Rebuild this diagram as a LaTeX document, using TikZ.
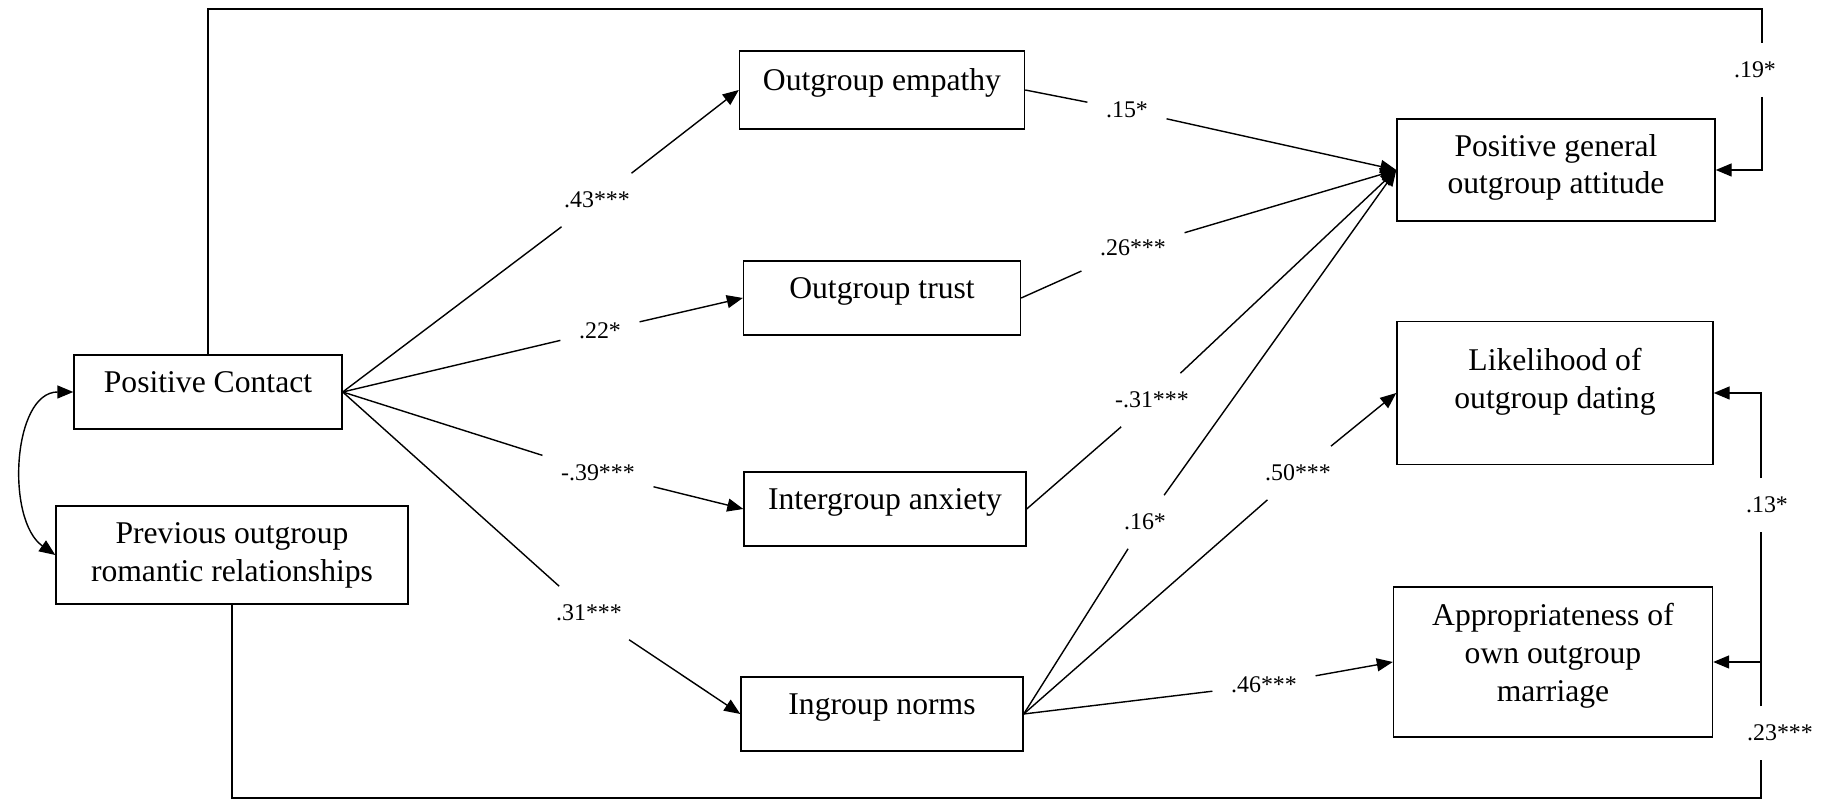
\documentclass[tikz,border=0pt]{standalone}
\usepackage{fontspec}
\setmainfont{Liberation Serif}
\usetikzlibrary{arrows.meta}
\begin{document}
\begin{tikzpicture}[>={Triangle[length=1.6mm,width=1.3mm]}, x=0.1mm, y=0.1mm, line width=0.4pt,
 box/.style={draw, align=center, inner sep=0pt, font=\fontsize{9}{10.8}\selectfont},
 oneline/.style={text height=6.2pt, text depth=6pt},
 coef/.style={inner sep=1.8mm, font=\fontsize{6.8}{8}\selectfont}]
 \useasboundingbox (0,0) rectangle (1830,-800);
 \node[box, oneline, minimum width=26.8mm, minimum height=7.4mm] (pc) at (208,-392) {Positive Contact};
 \node[box, minimum width=35.2mm, minimum height=9.8mm] (prev) at (232,-555) {Previous outgroup\\romantic relationships};
 \node[box, oneline, minimum width=28.5mm, minimum height=7.8mm] (oe) at (882,-90) {Outgroup empathy};
 \node[box, oneline, minimum width=27.7mm, minimum height=7.4mm] (ot) at (882,-298) {Outgroup trust};
 \node[box, oneline, minimum width=28.2mm, minimum height=7.4mm] (ia) at (885,-509) {Intergroup anxiety};
 \node[box, oneline, minimum width=28.2mm, minimum height=7.4mm] (inn) at (882,-714) {Ingroup norms};
 \node[box, text depth=3.4pt, minimum width=31.8mm, minimum height=10.2mm] (pga) at (1556,-170) {Positive general\\outgroup attitude};
 \node[box, text depth=8.2pt, minimum width=31.6mm, minimum height=14.3mm] (ld) at (1555,-393) {Likelihood of\\outgroup dating};
 \node[box, text depth=5.4pt, minimum width=31.9mm, minimum height=15mm] (am) at (1553,-662) {Appropriateness of\\own outgroup\\marriage};
 \node[coef] (c43) at (597,-200) {.43***};
 \node[coef] (c22) at (600,-331) {.22*};
 \node[coef] (c39) at (598,-473) {-.39***};
 \node[coef] (c31a) at (589,-613) {.31***};
 \node[coef] (c15) at (1127,-110) {.15*};
 \node[coef] (c26) at (1133,-248) {.26***};
 \node[coef] (c31b) at (1152,-400) {-.31***};
 \node[coef] (c16) at (1145,-522) {.16*};
 \node[coef] (c50) at (1298,-473) {.50***};
 \node[coef] (c46) at (1264,-685) {.46***};
 \node[coef] (c19) at (1755,-70) {.19*};
 \node[coef] (c13) at (1767,-505) {.13*};
 \node[coef] (c23) at (1780,-733) {.23***};
 \coordinate (tr) at (1762,-9);
 \coordinate (br) at (1761,-798);
 \draw[->] (pc.east) -- (c43) -- (oe.west);
 \draw[->] (pc.east) -- (c22) -- (ot.west);
 \draw[->] (pc.east) -- (c39) -- (ia.west);
 \draw[->] (pc.east) -- (c31a) -- (inn.west);
 \draw[->] (oe.east) -- (c15) -- (pga.west);
 \draw[->] (ot.east) -- (c26) -- (pga.west);
 \draw[->] (ia.east) -- (c31b) -- (pga.west);
 \draw[->] (inn.east) -- (c16) -- (pga.west);
 \draw[->] (inn.east) -- (c50) -- (ld.west);
 \draw[->] (inn.east) -- (c46) -- (am.west);
 \draw (pc.north) |- (tr) -- (tr |- c19.north);
 \draw[->] (tr |- c19.south) |- (pga.east);
 \draw (prev.south) |- (br) -- (br |- c23.south);
 \draw[->] (br |- c23.north) |- (am.east);
 \draw (br |- c23.north) -- (br |- c13.south);
 \draw[->] (br |- c13.north) |- (ld.east);
 \draw[<->] (pc.west) to[out=180, in=145, looseness=0.95] (prev.west);
\end{tikzpicture}
\end{document}
